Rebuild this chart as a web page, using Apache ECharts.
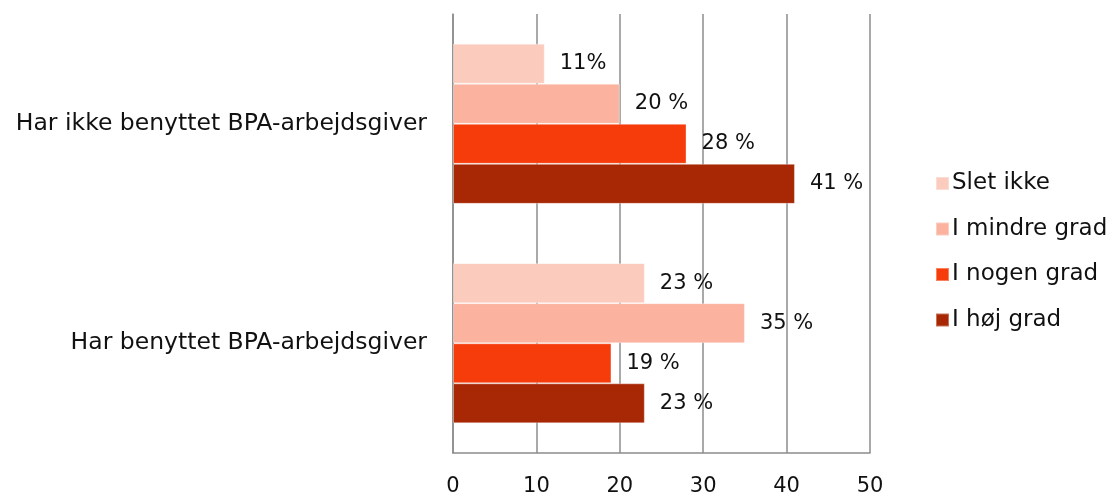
<!DOCTYPE html>
<html>
<head>
<meta charset="utf-8">
<script src="https://cdn.jsdelivr.net/npm/echarts@6/dist/echarts.min.js"></script>
<style>
  html, body { margin: 0; padding: 0; background: #ffffff; }
  #chart { width: 1111px; height: 498px; }
</style>
</head>
<body>
<div id="chart"></div>
<script>
// Categories, listed top to bottom
const categories = ['Har ikke benyttet BPA-arbejdsgiver', 'Har benyttet BPA-arbejdsgiver'];

// Series names (legend order)
const seriesNames = ['Slet ikke', 'I mindre grad', 'I nogen grad', 'I høj grad'];

// Percent values per series, one per category
const sletIkke = [11, 23];
const iMindreGrad = [20, 35];
const iNogenGrad = [28, 19];
const iHoejGrad = [41, 23];

// Separator between number and percent sign in each value label
const labelSeparators = [
  ['', ' '],
  [' ', ' '],
  [' ', ' '],
  [' ', ' ']
];

// Value-axis tick values
const xTicks = [0, 10, 20, 30, 40, 50];

const colors = ['#FBCBBD', '#FBB29E', '#F73C0B', '#A82806'];
const font = 'DejaVu Sans';
const seriesValues = [sletIkke, iMindreGrad, iNogenGrad, iHoejGrad];

const chart = echarts.init(document.getElementById('chart'), null, { renderer: 'canvas' });

chart.setOption({
  animation: false,
  backgroundColor: '#ffffff',
  textStyle: { fontFamily: font },
  grid: { left: 453, right: 241, top: 14, bottom: 45, containLabel: false },
  legend: {
    orient: 'vertical',
    left: 930,
    top: 167,
    itemWidth: 13,
    itemHeight: 13,
    itemGap: 22.5,
    icon: 'rect',
    textStyle: { fontFamily: font, fontSize: 23, color: '#111111', padding: [0, 0, 0, -2] },
    data: seriesNames
  },
  xAxis: {
    type: 'value',
    min: xTicks[0],
    max: xTicks[xTicks.length - 1],
    interval: xTicks[1] - xTicks[0],
    axisLine: { show: true, lineStyle: { color: '#8c8c8c', width: 1.5 } },
    axisTick: { show: false },
    axisLabel: { fontFamily: font, fontSize: 21, color: '#111111', margin: 23 },
    splitLine: { show: true, lineStyle: { color: '#8c8c8c', width: 1.5 } }
  },
  yAxis: {
    type: 'category',
    inverse: true,
    data: categories,
    axisLine: { show: true, lineStyle: { color: '#8c8c8c', width: 1.5 } },
    axisTick: { show: false },
    axisLabel: { fontFamily: font, fontSize: 23.5, color: '#111111', margin: 26 }
  },
  series: seriesNames.map((name, si) => ({
    name: name,
    type: 'bar',
    data: seriesValues[si],
    barGap: '0%',
    barCategoryGap: '27%',
    itemStyle: { color: colors[si], borderColor: 'rgba(255,255,255,0.35)', borderWidth: 1 },
    label: {
      show: true,
      position: 'right',
      distance: 15,
      fontFamily: font,
      fontSize: 21,
      color: '#111111',
      formatter: p => p.value + labelSeparators[si][p.dataIndex] + '%'
    }
  }))
});
</script>
</body>
</html>
